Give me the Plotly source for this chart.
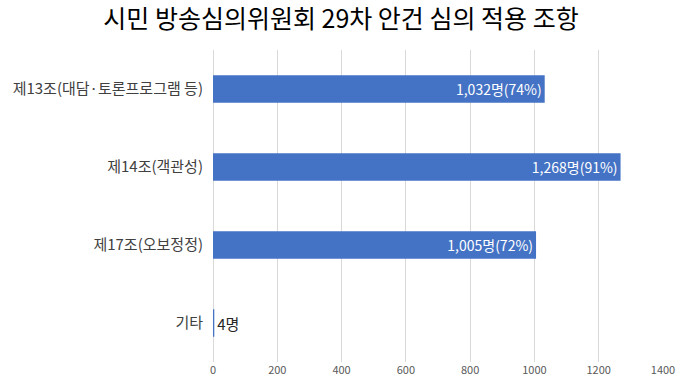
import plotly.graph_objects as go

categories = ["제13조(대담·토론프로그램 등)", "제14조(객관성)", "제17조(오보정정)", "기타"]
counts = [1032, 1268, 1005, 4]
percents = [74, 91, 72, None]
tick_vals = [0, 200, 400, 600, 800, 1000, 1200, 1400]

labels = []
positions = []
for c, p in zip(counts, percents):
    if p is None:
        labels.append(f"{c:,}명")
        positions.append("outside")
    else:
        labels.append(f"{c:,}명({p}%)")
        positions.append("inside")

font_family = "Noto Sans CJK KR, Noto Sans, sans-serif"

W, H = 682, 391

fig = go.Figure(go.Bar(
    y=categories,
    x=counts,
    orientation="h",
    marker=dict(color="#4472C4", line=dict(width=0)),
    width=0.35,
    text=labels,
    textposition=positions,
    insidetextanchor="end",
    insidetextfont=dict(color="white", size=14, family=font_family),
    outsidetextfont=dict(color="#262626", size=15, family=font_family),
    cliponaxis=False,
    hoverinfo="skip",
))

fig.update_layout(
    width=W, height=H,
    margin=dict(l=213, r=19, t=50, b=29, autoexpand=False),
    paper_bgcolor="white",
    plot_bgcolor="white",
    showlegend=False,
    title=dict(
        text="시민 방송심의위원회 29차 안건 심의 적용 조항",
        x=0.5, xanchor="center", y=1 - 19 / H, yanchor="middle",
        font=dict(size=25, color="#000000", family=font_family),
    ),
    xaxis=dict(
        range=[0, 1400],
        tickvals=tick_vals,
        automargin=False,
        showgrid=True, gridcolor="#d9d9d9", gridwidth=1,
        zeroline=True, zerolinecolor="#d9d9d9", zerolinewidth=1,
        showline=False,
        tickfont=dict(size=11, color="#595959", family=font_family),
        ticks="",
    ),
    yaxis=dict(
        autorange="reversed",
        automargin=False,
        showgrid=False,
        showline=False,
        ticks="",
        ticklabelstandoff=9,
        tickfont=dict(size=15, color="#404040", family=font_family),
    ),
)

fig.write_html(
    "out.html",
    config={"displayModeBar": False, "staticPlot": True},
    post_script="document.body.style.margin='0';document.body.style.overflow='hidden';",
)
